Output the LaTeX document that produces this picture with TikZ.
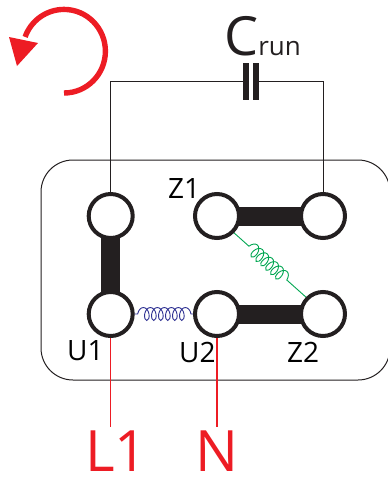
\documentclass[tikz,border=0pt]{standalone}
\usepackage{fontspec}
\setmainfont{Open Sans}
\usetikzlibrary{decorations.pathmorphing,backgrounds}
\definecolor{ink}{HTML}{231F20}
\definecolor{myred}{HTML}{ED1C24}
\definecolor{mygreen}{HTML}{00A651}
\definecolor{myblue}{HTML}{2E3192}
\tikzset{
  term/.style={circle,draw=ink,fill=white,line width=4pt,minimum size=44pt,inner sep=0pt,outer sep=0pt},
  plate/.style={rectangle,fill=ink,minimum width=6pt,minimum height=37pt,inner sep=0pt,outer sep=0pt},
  wire/.style={draw=ink,line width=1pt},
  redwire/.style={draw=myred,line width=1.2pt},
  bar/.style={draw=ink,line width=19pt},
  lab/.style={text=black,font=\fontsize{28}{28}\selectfont,inner sep=0pt,anchor=base west},
  biglab/.style={text=myred,font=\fontsize{57}{57}\selectfont,inner sep=0pt,anchor=base west},
  bluespring/.style={draw=myblue,line width=0.9pt,decorate,decoration={coil,aspect=0.6,amplitude=6.5pt,segment length=7pt,pre length=5pt,post length=2pt}},
  greenspring/.style={draw=mygreen,line width=0.9pt,decorate,decoration={coil,aspect=0.6,amplitude=6.5pt,segment length=6.6pt,pre length=22pt,post length=24pt}}
}
\begin{document}
\begin{tikzpicture}[x=1pt,y=-1pt]
\useasboundingbox (0,0) rectangle (388,480);
% terminals
\node[term] (ut) at (110.7,216) {};
\node[term] (u1) at (110.7,314) {};
\node[term] (z1) at (217,216) {};
\node[term] (zr) at (323,216) {};
\node[term] (u2) at (217,314) {};
\node[term] (z2) at (323,314) {};
% capacitor
\node[plate] (capa) at (246,81) {};
\node[plate] (capb) at (256,81) {};
\coordinate (l1end) at (110.7,427);
\coordinate (nend) at (217,427);
\begin{scope}[on background layer]
\draw[ink,line width=1pt,rounded corners=32pt] (41,160) rectangle (390,380);
\draw[wire] (capa.west) -| (ut.north);
\draw[wire] (capb.east) -| (zr.north);
\draw[bar] (ut) -- (u1);
\draw[bar] (z1) -- (zr);
\draw[bar] (u2) -- (z2);
\draw[redwire] (u1.south) -- (l1end);
\draw[redwire] (u2.south) -- (nend);
\draw[bluespring] (u1.east) -- (u2.west);
\draw[greenspring] (z1.-45) -- (z2.135);
\end{scope}
% rotation arrow
\draw[myred,line width=5.4pt] (64,93) arc[start angle=90,end angle=-160,x radius=41.4,y radius=41.8];
\fill[myred] (9,37) -- (38,43) -- (17,66) -- cycle;
% labels
\node[lab] (lz1) at (168,198) {Z1};
\node[lab] (lu1) at (67,360) {U1};
\node[lab] (lu2) at (179,362) {U2};
\node[lab] (lz2) at (287,362) {Z2};
\node[biglab] (ll1) at (85,471) {L1};
\node[biglab] (ln) at (195,471) {N};
\node[inner sep=0pt,anchor=base west,text=ink,font=\fontsize{54}{54}\selectfont] (crun) at (224,55) {C\fontsize{26}{26}\selectfont run};
\end{tikzpicture}
\end{document}
